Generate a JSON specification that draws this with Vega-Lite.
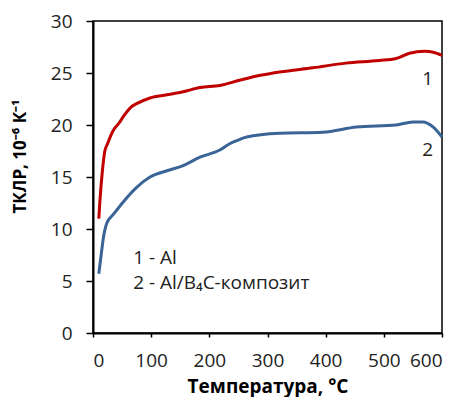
{
  "$schema": "https://vega.github.io/schema/vega-lite/v6.json",
  "autosize": {"type": "none"},
  "padding": {"left": 93, "top": 21, "right": 20, "bottom": 64},
  "width": 349,
  "height": 312,
  "background": "white",
  "view": {"stroke": null},
  "config": {
    "font": "Open Sans",
    "axis": {
      "grid": false,
      "domain": true,
      "ticks": true,
      "domainColor": "#000000",
      "domainWidth": 2,
      "tickColor": "#000000",
      "tickWidth": 1.5,
      "labelFont": "Open Sans",
      "labelFontSize": 19,
      "labelColor": "#222",
      "titleFont": "Open Sans",
      "titleFontWeight": "bold",
      "titleColor": "black"
    }
  },
  "datasets": {
    "curves": [
      {"t": 10, "v": 11.0, "s": "1"},
      {"t": 12, "v": 12.8, "s": "1"},
      {"t": 16, "v": 15.5, "s": "1"},
      {"t": 20, "v": 17.4, "s": "1"},
      {"t": 25, "v": 18.2, "s": "1"},
      {"t": 35, "v": 19.5, "s": "1"},
      {"t": 45, "v": 20.2, "s": "1"},
      {"t": 52, "v": 20.8, "s": "1"},
      {"t": 65, "v": 21.7, "s": "1"},
      {"t": 75, "v": 22.05, "s": "1"},
      {"t": 98, "v": 22.6, "s": "1"},
      {"t": 127, "v": 22.9, "s": "1"},
      {"t": 155, "v": 23.2, "s": "1"},
      {"t": 184, "v": 23.6, "s": "1"},
      {"t": 218, "v": 23.8, "s": "1"},
      {"t": 252, "v": 24.3, "s": "1"},
      {"t": 290, "v": 24.8, "s": "1"},
      {"t": 321, "v": 25.1, "s": "1"},
      {"t": 378, "v": 25.5, "s": "1"},
      {"t": 435, "v": 25.95, "s": "1"},
      {"t": 492, "v": 26.2, "s": "1"},
      {"t": 521, "v": 26.4, "s": "1"},
      {"t": 544, "v": 26.9, "s": "1"},
      {"t": 570, "v": 27.1, "s": "1"},
      {"t": 585, "v": 27.0, "s": "1"},
      {"t": 600, "v": 26.7, "s": "1"},
      {"t": 10, "v": 5.7, "s": "2"},
      {"t": 14, "v": 7.5, "s": "2"},
      {"t": 18, "v": 9.2, "s": "2"},
      {"t": 24, "v": 10.6, "s": "2"},
      {"t": 35, "v": 11.4, "s": "2"},
      {"t": 52, "v": 12.6, "s": "2"},
      {"t": 75, "v": 14.0, "s": "2"},
      {"t": 98, "v": 15.0, "s": "2"},
      {"t": 127, "v": 15.6, "s": "2"},
      {"t": 155, "v": 16.1, "s": "2"},
      {"t": 184, "v": 16.9, "s": "2"},
      {"t": 218, "v": 17.6, "s": "2"},
      {"t": 235, "v": 18.2, "s": "2"},
      {"t": 252, "v": 18.6, "s": "2"},
      {"t": 264, "v": 18.85, "s": "2"},
      {"t": 321, "v": 19.2, "s": "2"},
      {"t": 395, "v": 19.3, "s": "2"},
      {"t": 453, "v": 19.8, "s": "2"},
      {"t": 521, "v": 20.0, "s": "2"},
      {"t": 550, "v": 20.3, "s": "2"},
      {"t": 567, "v": 20.3, "s": "2"},
      {"t": 585, "v": 19.8, "s": "2"},
      {"t": 600, "v": 18.85, "s": "2"}
    ],
    "labels": [
      {"t": 566, "v": 24.4, "txt": "1"},
      {"t": 566, "v": 17.6, "txt": "2"},
      {"t": 69, "v": 7.2, "txt": "1 - Al"},
      {"t": 69, "v": 4.8, "txt": "2 - Al/B₄C-композит"}
    ],
    "frame": [
      {"x": 0, "x2": 600, "y": 0, "y2": 30}
    ]
  },
  "layer": [
    {
      "data": {"name": "frame"},
      "mark": {"type": "rect", "fill": null, "fillOpacity": 0, "stroke": "#000000", "strokeWidth": 1.5},
      "encoding": {
        "x": {"field": "x", "type": "quantitative"},
        "x2": {"field": "x2"},
        "y": {"field": "y", "type": "quantitative"},
        "y2": {"field": "y2"}
      }
    },
    {
      "data": {"name": "curves"},
      "mark": {"type": "line", "strokeWidth": 3, "interpolate": "monotone"},
      "encoding": {
        "x": {
          "field": "t", "type": "quantitative",
          "scale": {"domain": [0, 600], "nice": false},
          "axis": {"values": [0, 100, 200, 300, 400, 500, 600], "tickSize": 4, "labelPadding": 14, "title": "Температура, °C", "titleFontSize": 19, "titleBaseline": "alphabetic", "titleY": 59}
        },
        "y": {
          "field": "v", "type": "quantitative",
          "scale": {"domain": [0, 30], "nice": false},
          "axis": {"values": [0, 5, 10, 15, 20, 25, 30], "tickSize": 7, "labelPadding": 14, "title": "ТКЛР, 10⁻⁶ К⁻¹", "titleFontSize": 17, "titleAngle": -90, "titleAlign": "center", "titleBaseline": "middle", "titleX": -73, "titleY": 135}
        },
        "color": {
          "field": "s", "type": "nominal",
          "scale": {"domain": ["1", "2"], "range": ["#C00000", "#3A6496"]},
          "legend": null
        }
      }
    },
    {
      "data": {"name": "labels"},
      "mark": {"type": "text", "align": "left", "baseline": "middle", "fontSize": 19, "font": "Open Sans", "color": "#222"},
      "encoding": {
        "x": {"field": "t", "type": "quantitative"},
        "y": {"field": "v", "type": "quantitative"},
        "text": {"field": "txt"}
      }
    }
  ]
}
